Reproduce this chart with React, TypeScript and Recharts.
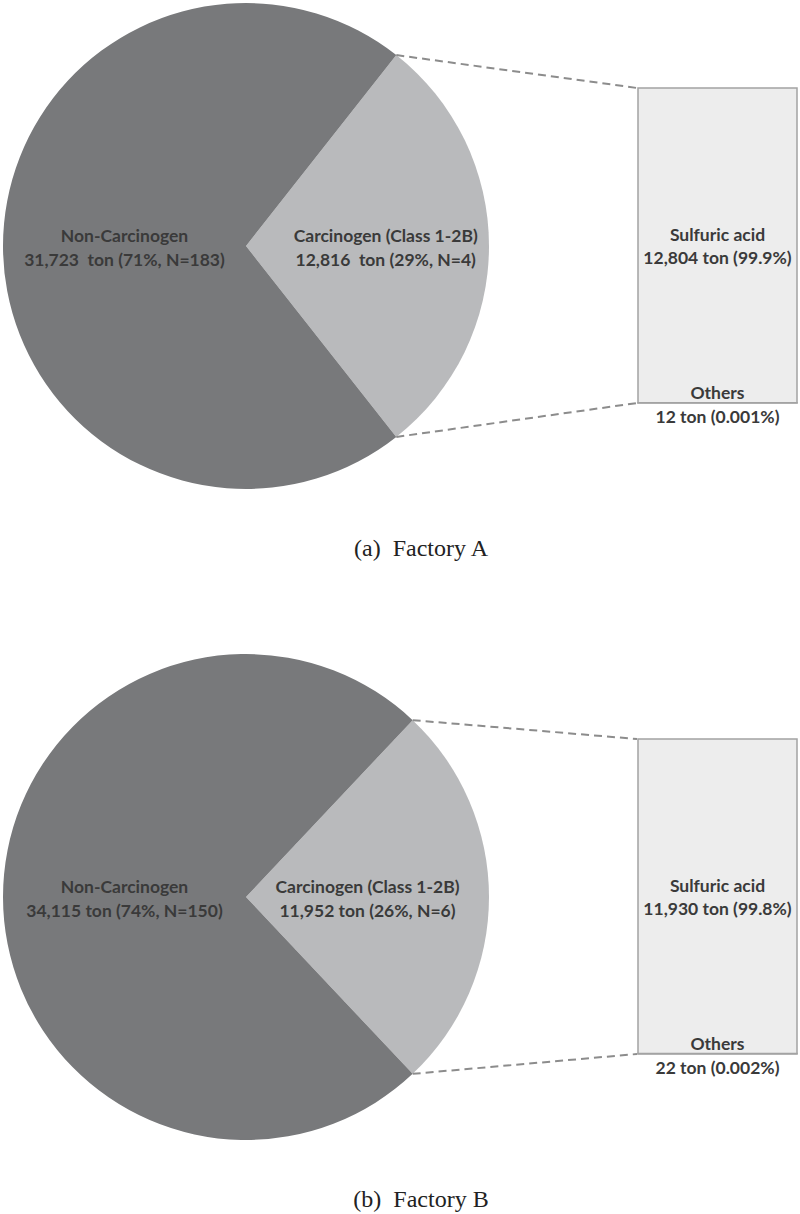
import React from "react";
import { PieChart, Pie, Cell, BarChart, Bar, XAxis, YAxis, LabelList } from "recharts";

// Factory A
const pieNamesA = ["Carcinogen (Class 1-2B)", "Non-Carcinogen"];
const pieTonsA = [12816, 31723];
const pieTextA = ["12,816  ton (29%, N=4)", "31,723  ton (71%, N=183)"];
const barNamesA = ["Others", "Sulfuric acid"];
const barTonsA = [12, 12804];
const barTextA = ["12 ton (0.001%)", "12,804 ton (99.9%)"];

// Factory B
const pieNamesB = ["Carcinogen (Class 1-2B)", "Non-Carcinogen"];
const pieTonsB = [11952, 34115];
const pieTextB = ["11,952 ton (26%, N=6)", "34,115 ton (74%, N=150)"];
const barNamesB = ["Others", "Sulfuric acid"];
const barTonsB = [22, 11930];
const barTextB = ["22 ton (0.002%)", "11,930 ton (99.8%)"];

const sliceColors = ["#b9babc", "#78797b"];
const labelFont = "Lato, 'Open Sans', sans-serif";
const labelColor = "#3a3a3a";

// layout
const PIE_CX = 246;
const PIE_CY = 246;
const PIE_R = 243;
const BAR_CHART_LEFT = 600;
const BAR_CHART_W = 200;
const BAR_CHART_H = 500;
const BAR_MARGIN = { top: 88, left: 38, right: 3, bottom: 97 };

interface PanelProps {
  pieNames: string[];
  pieTons: number[];
  pieText: string[];
  barNames: string[];
  barTons: number[];
  barText: string[];
  caption: string;
  carcRatio: number;
  height: number;
}

function Panel({
  pieNames,
  pieTons,
  pieText,
  barNames,
  barTons,
  barText,
  caption,
  carcRatio,
  height,
}: PanelProps) {
  const pieData = pieNames.map((name, i) => ({ name, value: pieTons[i], text: pieText[i] }));
  const total = pieTons.reduce((a, b) => a + b, 0);
  // carcinogen slice is centred on the 3 o'clock direction
  const half = (pieTons[0] / total) * 180;
  const barRow = { cat: pieNames[0], others: barTons[0], main: barTons[1] };
  const barTotal = barTons[0] + barTons[1];

  const rad = Math.PI / 180;
  const edgeX = PIE_CX + PIE_R * Math.cos(half * rad);
  const edgeDy = PIE_R * Math.sin(half * rad);
  const barLeft = BAR_CHART_LEFT + BAR_MARGIN.left;
  const barTop = BAR_MARGIN.top;
  const barBottom = BAR_CHART_H - BAR_MARGIN.bottom;

  const renderPieLabel = (p: any) => {
    const ratio = p.index === 0 ? carcRatio : 0.5;
    const x = p.cx + p.outerRadius * ratio * Math.cos(-p.midAngle * rad);
    const y = p.cy + p.outerRadius * ratio * Math.sin(-p.midAngle * rad);
    const d = pieData[p.index];
    return (
      <text
        x={x}
        y={y}
        textAnchor="middle"
        fontFamily={labelFont}
        fontWeight={700}
        fontSize={17.5}
        fill={labelColor}
        style={{ whiteSpace: "pre" }}
      >
        <tspan x={x} dy={-4}>{d.name}</tspan>
        <tspan x={x} dy={23.5}>{d.text}</tspan>
      </text>
    );
  };

  const mainLabel = (p: any) => {
    const x = p.x + p.width / 2;
    const y = p.y + p.height / 2;
    return (
      <text x={x} y={y} textAnchor="middle" fontFamily={labelFont} fontWeight={700} fontSize={17.5} fill={labelColor}>
        <tspan x={x} dy={-4.5}>{barNames[1]}</tspan>
        <tspan x={x} dy={23}>{barText[1]}</tspan>
      </text>
    );
  };

  const othersLabel = (p: any) => {
    const x = p.x + p.width / 2;
    const y = p.y + p.height;
    return (
      <text x={x} y={y} textAnchor="middle" fontFamily={labelFont} fontWeight={700} fontSize={17.5} fill={labelColor}>
        <tspan x={x} dy={-4}>{barNames[0]}</tspan>
        <tspan x={x} dy={24}>{barText[0]}</tspan>
      </text>
    );
  };

  return (
    <div style={{ position: "relative", width: 800, height }}>
      <div style={{ position: "absolute", left: 0, top: 0 }}>
        <PieChart width={492} height={492} margin={{ top: 0, right: 0, bottom: 0, left: 0 }}>
          <Pie
            data={pieData}
            dataKey="value"
            nameKey="name"
            cx={PIE_CX}
            cy={PIE_CY}
            outerRadius={PIE_R}
            startAngle={half}
            endAngle={half - 360}
            stroke="none"
            label={renderPieLabel}
            labelLine={false}
            isAnimationActive={false}
          >
            {pieData.map((_, i) => (
              <Cell key={i} fill={sliceColors[i]} />
            ))}
          </Pie>
        </PieChart>
      </div>
      <div style={{ position: "absolute", left: BAR_CHART_LEFT, top: 0 }}>
        <BarChart
          width={BAR_CHART_W}
          height={BAR_CHART_H}
          data={[barRow]}
          margin={BAR_MARGIN}
          barCategoryGap={0}
        >
          <XAxis dataKey="cat" hide />
          <YAxis hide domain={[0, barTotal]} />
          <Bar dataKey="others" stackId="s" fill="#ededed" stroke="#a3a3a3" strokeWidth={1.5} isAnimationActive={false}>
            <LabelList dataKey="others" content={othersLabel} />
          </Bar>
          <Bar dataKey="main" stackId="s" fill="#ededed" stroke="#a3a3a3" strokeWidth={1.5} isAnimationActive={false}>
            <LabelList dataKey="main" content={mainLabel} />
          </Bar>
        </BarChart>
      </div>
      <svg
        width={800}
        height={height}
        style={{ position: "absolute", left: 0, top: 0, pointerEvents: "none" }}
      >
        <g stroke="#8c8c8c" strokeWidth={2} strokeDasharray="8 5" fill="none">
          <line x1={edgeX} y1={PIE_CY - edgeDy} x2={barLeft - 1} y2={barTop} />
          <line x1={edgeX} y1={PIE_CY + edgeDy} x2={barLeft - 1} y2={barBottom} />
        </g>
        <text
          x={421}
          y={556}
          textAnchor="middle"
          fontFamily="'Liberation Serif', 'Times New Roman', serif"
          fontSize={24}
          fill="#222"
          style={{ whiteSpace: "pre" }}
        >
          {caption}
        </text>
      </svg>
    </div>
  );
}

export default function App() {
  return (
    <div style={{ width: 800, height: 1214, background: "#fff" }}>
      <style>{"body{margin:0}"}</style>
      <Panel
        pieNames={pieNamesA}
        pieTons={pieTonsA}
        pieText={pieTextA}
        barNames={barNamesA}
        barTons={barTonsA}
        barText={barTextA}
        caption="(a)  Factory A"
        carcRatio={0.575}
        height={651}
      />
      <Panel
        pieNames={pieNamesB}
        pieTons={pieTonsB}
        pieText={pieTextB}
        barNames={barNamesB}
        barTons={barTonsB}
        barText={barTextB}
        caption="(b)  Factory B"
        carcRatio={0.5}
        height={563}
      />
    </div>
  );
}
